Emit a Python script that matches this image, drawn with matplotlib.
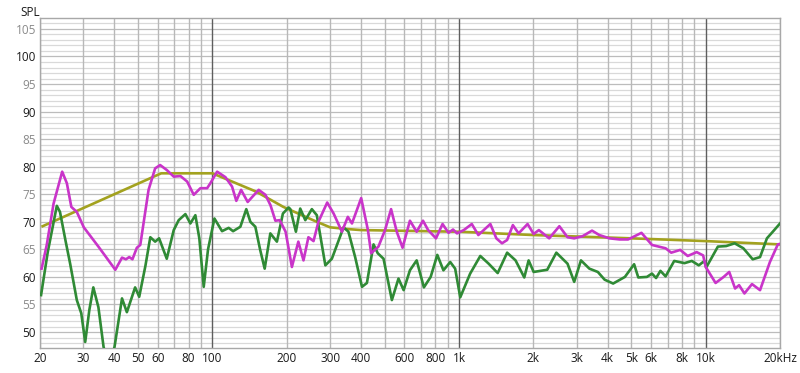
import matplotlib
matplotlib.use('Agg')
import matplotlib.pyplot as plt
from matplotlib.ticker import FixedLocator, NullFormatter

# Frequency response readings (Hz, dB SPL)
GREEN_F = [20.2, 21.5, 23.4, 24.1, 25.4, 26.5, 28.2, 29.4, 30.5, 31.7, 32.9, 34.5, 36.2, 38.0,
           40.1, 43.0, 45.0, 48.6, 50.5, 53.5, 56.0, 58.6, 60.8, 65.3, 69.7, 73.0, 77.7, 81.4,
           85.3, 88.5, 92.2, 96.0, 101.9, 109.4, 116.4, 121.3, 129.8, 137.2, 142.5, 149.3, 156,
           162.9, 171.7, 182.6, 193.1, 203.7, 207, 218, 227, 238, 253, 265, 287, 305, 340, 356,
           379, 404, 423, 450, 468, 494, 534, 568, 596, 632, 673, 720, 767, 816, 864, 921, 964,
           1011, 1109, 1219, 1318, 1434, 1566, 1694, 1838, 1914, 2006, 2277, 2479, 2752, 2929,
           3120, 3375, 3652, 3891, 4213, 4702, 5124, 5328, 5774, 6053, 6290, 6552, 6873, 7450,
           8200, 8780, 9370, 9880, 10040, 11200, 12100, 13100, 14200, 15500, 16600, 17700,
           18700, 20000]
GREEN_DB = [56.7, 64.5, 72.9, 71.8, 66.5, 62.4, 55.8, 53.4, 48.2, 54.0, 58.1, 54.5, 47.3, 44.0,
            47.3, 56.1, 53.6, 58.1, 56.4, 62.0, 67.2, 66.4, 67.0, 63.3, 68.5, 70.3, 71.4, 69.7,
            71.2, 67.0, 58.2, 65.0, 70.6, 68.3, 68.9, 68.3, 69.1, 72.3, 70.0, 69.1, 65.0,
            61.5, 67.9, 66.4, 71.5, 72.6, 72.3, 68.2, 72.4, 70.3, 72.3, 71.2, 62.1, 63.3, 69.0, 68.2,
            63.6, 58.2, 58.9, 65.9, 64.3, 63.3, 55.8, 59.7, 57.6, 61.2, 63.0, 58.1, 60.0, 64.0, 61.2, 62.7, 61.5,
            56.3, 60.6, 63.8, 62.4, 60.7, 64.4, 63.0, 59.9, 63.0, 60.9, 61.3, 64.4, 62.4, 59.1,
            63.0, 61.5, 60.9, 59.5, 58.8, 60.0, 62.3, 59.9, 60.0, 60.6, 59.8, 61.1, 60.1, 62.9,
            62.5, 62.9, 62.1, 62.9, 61.7, 65.5, 65.6, 66.1, 65.2, 63.2, 63.6, 67.0,
            68.2, 69.7]

MAGENTA_F = [20.3, 21.3, 22.7, 24.6, 25.7, 26.8, 28.2, 30.1, 34.5, 40.4, 43.0, 44.6, 46.0, 47.4,
             49.4, 51.0, 55.1, 58.6, 61.4, 65.3, 69.7, 74.2, 79.0, 84.0, 89.4, 95.2, 98.1, 104.5,
             112.9, 120.1, 125, 130.7, 139, 154, 164, 172, 180, 187.5, 198, 204, 210, 223, 234,
             245, 257, 269, 292, 310, 335, 354, 368, 401, 427, 440, 471, 501, 530, 559, 590, 632,
             673, 714, 749, 806, 857, 906, 945, 981, 1045, 1126, 1197, 1339, 1416, 1493, 1566,
             1652, 1743, 1895, 2006, 2106, 2319, 2550, 2752, 2929, 3170, 3459, 3702, 4068, 4474,
             4842, 5488, 6053, 6873, 7246, 7880, 8450, 9190, 9760, 10000, 10960, 11820, 12450,
             13150, 13650, 14350, 15400, 16600, 18200, 19600, 20000]
MAGENTA_DB = [61.5, 65.8, 73.3, 79.1, 77.0, 72.7, 71.8, 69.0, 65.5, 61.3, 63.5, 63.2, 63.6, 63.2,
              65.3, 65.8, 75.8, 79.7, 80.3, 79.4, 78.2, 78.3, 77.3, 74.9, 76.1, 76.1, 77.0, 79.1,
              78.1, 76.4, 73.8, 75.8, 73.6, 75.8, 74.9, 73.0, 70.2, 70.3, 68.2, 65.0, 61.8, 66.4, 63.0,
              67.2, 66.5, 70.0, 73.5, 71.5, 68.2, 70.9, 69.7, 74.3, 68.5, 64.3, 65.5, 68.5, 72.3, 68.2, 65.3, 70.2,
              68.2, 70.2, 68.5, 67.0, 69.6, 68.0, 68.6, 67.9, 68.5, 69.6, 67.6, 69.6, 67.0, 66.1, 66.7,
              69.4, 67.9, 69.6, 67.8, 68.5, 67.0, 69.2, 67.2, 67.0, 67.4, 68.4, 67.6, 67.0, 66.8,
              66.8, 68.0, 65.8, 65.2, 64.4, 64.9, 63.8, 64.5, 63.9, 61.8, 58.9, 60.0, 60.9,
              57.9, 58.5, 57.0, 58.7, 57.6, 62.7, 65.9, 66.0]

TARGET_F = [20.5, 62, 100, 150, 194, 265, 300, 350, 400, 1000, 2000, 5000, 10000, 20000]
TARGET_DB = [69.2, 78.8, 78.8, 75.5, 72.7, 70.0, 69.0, 68.7, 68.5, 68.2, 67.6, 67.0, 66.5, 65.9]

X_TICKS = [20, 30, 40, 50, 60, 80, 100, 200, 300, 400, 600, 800, 1000, 2000, 3000, 4000,
           5000, 6000, 8000, 10000, 20000]
X_LABELS = ['20', '30', '40', '50', '60', '80', '100', '200', '300', '400', '600', '800', '1k',
            '2k', '3k', '4k', '5k', '6k', '8k', '10k', '20kHz']
Y_TICKS = [50, 55, 60, 65, 70, 75, 80, 85, 90, 95, 100, 105]

plt.rcParams['font.family'] = ['Open Sans', 'DejaVu Sans']

fig = plt.figure(figsize=(8, 3.73), dpi=100)
ax = fig.add_axes([0.05, 0.067, 0.925, 0.885])
ax.set_xscale('log')
ax.set_xlim(20, 20000)
ax.set_ylim(47.1, 107)

# horizontal grid every dB, vertical grid on 1-2-3..9 steps, decades darker on top
for v in range(48, 107):
    ax.axhline(v, color='#bcbcbc' if v % 5 == 0 else '#d9d9d9', lw=0.9, zorder=1)
grid_f = [m * 10 ** e for e in range(1, 5) for m in range(1, 10)]
grid_f = [f for f in grid_f if 20 <= f <= 20000]
for f in grid_f:
    dark = f in (100, 1000, 10000)
    ax.axvline(f, color='#5e5e5e' if dark else '#b8b8b8', lw=1.0, zorder=2)

ax.plot(TARGET_F, TARGET_DB, color='#a3a21f', lw=1.9, zorder=3, solid_joinstyle='round')
ax.plot(GREEN_F, GREEN_DB, color='#2f8a35', lw=1.9, zorder=4, solid_joinstyle='round')
ax.plot(MAGENTA_F, MAGENTA_DB, color='#c934c9', lw=1.9, zorder=5, solid_joinstyle='round')

ax.xaxis.set_major_locator(FixedLocator(X_TICKS))
ax.set_xticklabels(X_LABELS)
ax.xaxis.set_minor_formatter(NullFormatter())
ax.xaxis.set_minor_locator(FixedLocator([]))
ax.set_yticks(Y_TICKS)
ax.set_yticklabels([str(v) for v in Y_TICKS])
ax.tick_params(length=0, labelsize=8.5, colors='#1a1a1a', pad=3)
for lbl, v in zip(ax.get_yticklabels(), Y_TICKS):
    lbl.set_color('#1a1a1a' if v % 10 == 0 else '#8a8a8a')

for s in ax.spines.values():
    s.set_color('#a8a8a8')
    s.set_linewidth(1.0)

fig.text(0.025, 0.985, 'SPL', fontsize=8.5, color='#1a1a1a', va='top', ha='left')

fig.savefig('out.png', dpi=100)
